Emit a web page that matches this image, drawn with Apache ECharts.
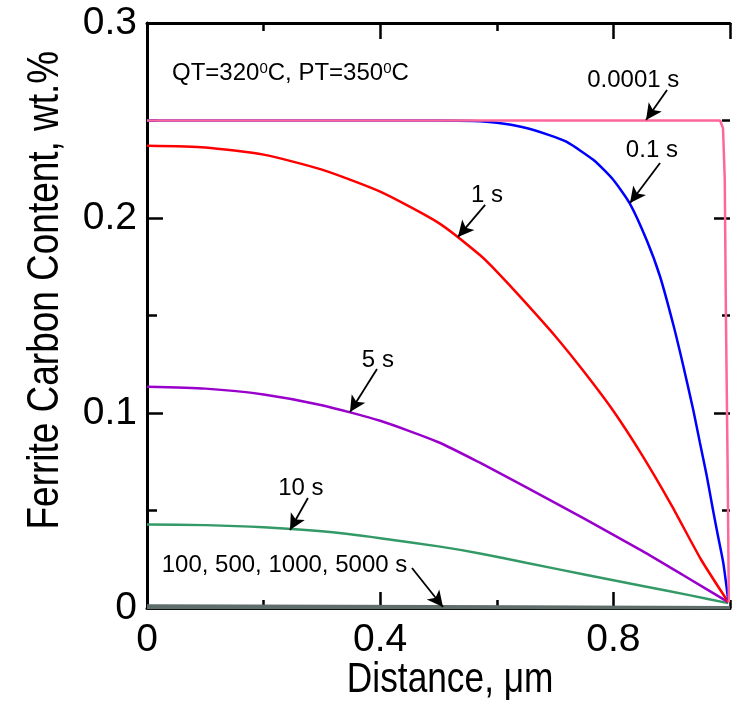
<!DOCTYPE html>
<html>
<head>
<meta charset="utf-8">
<script src="https://cdn.jsdelivr.net/npm/echarts@6/dist/echarts.min.js"></script>
<style>
  html, body { margin: 0; padding: 0; background: #fff; }
  #chart { width: 732px; height: 714px; }
</style>
</head>
<body>
<div id="chart"></div>
<script>
// distance (um) and ferrite carbon (wt.%)
const dist0001 = [0, 0.2, 0.4, 0.6, 0.8, 0.983, 0.988, 0.991, 0.993, 0.996, 0.998];
const carb0001 = [0.25, 0.25, 0.25, 0.25, 0.25, 0.25, 0.246, 0.22, 0.15, 0.07, 0.003];

const dist01 = [0, 0.2, 0.4, 0.5, 0.56, 0.6, 0.645, 0.69, 0.72, 0.766, 0.8, 0.828, 0.857, 0.88, 0.903, 0.92, 0.937, 0.9485, 0.96, 0.971, 0.98, 0.9886, 0.997];
const carb01 = [0.25, 0.25, 0.25, 0.25, 0.2497, 0.2488, 0.2465, 0.2425, 0.239, 0.2297, 0.2195, 0.2075, 0.1887, 0.17, 0.145, 0.124, 0.1015, 0.0846, 0.068, 0.05, 0.036, 0.0229, 0.004];

const dist1 = [0, 0.1, 0.2, 0.3, 0.4, 0.5, 0.571, 0.6, 0.645, 0.7, 0.75, 0.8, 0.85, 0.9, 0.95, 0.997];
const carb1 = [0.237, 0.2362, 0.2325, 0.2248, 0.2135, 0.1975, 0.181, 0.1725, 0.158, 0.1395, 0.121, 0.101, 0.078, 0.0525, 0.025, 0.003];

const dist5 = [0, 0.1, 0.2, 0.3, 0.4, 0.5, 0.571, 0.65, 0.75, 0.85, 0.92, 0.997];
const carb5 = [0.1135, 0.1125, 0.1095, 0.104, 0.096, 0.085, 0.0745, 0.062, 0.0458, 0.0292, 0.0168, 0.003];

const dist10 = [0, 0.1, 0.2, 0.3, 0.4, 0.5, 0.571, 0.65, 0.75, 0.85, 0.93, 0.997];
const carb10 = [0.0428, 0.0425, 0.0414, 0.0393, 0.0358, 0.0316, 0.028, 0.0232, 0.0172, 0.0113, 0.0066, 0.0025];

const distLong = [0, 0.5, 1.0];
const carb100 = [0.0012, 0.0008, 0.0002];
const carb500 = [0.0006, 0.0004, 0.0001];
const carb1000 = [0.0003, 0.0002, 0.0001];
const carb5000 = [0.0001, 0.0001, 0];

const xTicks = [0, 0.4, 0.8];
const yTicks = [0, 0.1, 0.2, 0.3];

// text labels and arrows, in data units
const notes = [
    { text: '0.0001 s', at: [0.834, 0.2708], from: [0.892, 0.2656], to: [0.856, 0.2503] },
    { text: '0.1 s', at: [0.866, 0.2349], from: [0.880, 0.2282], to: [0.8285, 0.2077] },
    { text: '1 s', at: [0.583, 0.2118], from: [0.580, 0.2067], to: [0.5334, 0.1903] },
    { text: '5 s', at: [0.396, 0.1272], from: [0.3945, 0.1226], to: [0.3482, 0.1005] },
    { text: '10 s', at: [0.264, 0.0615], from: [0.276, 0.0564], to: [0.2453, 0.040] },
    { text: '100, 500, 1000, 5000 s', at: [0.2358, 0.022], from: [0.4545, 0.0205], to: [0.5077, 0.0005] }
];

const pairs = (xs, ys) => xs.map((x, i) => [x, ys[i]]);

const chart = echarts.init(document.getElementById('chart'));
const font = '"Liberation Sans", Arial, sans-serif';

const lineSeries = (name, xs, ys, color, extra) => Object.assign({
    name: name,
    type: 'line',
    data: pairs(xs, ys),
    showSymbol: false,
    smooth: 0.2,
    lineStyle: { color: color, width: 2.5 },
    itemStyle: { color: color },
    z: 3
}, extra || {});

const tickAxis = (pos, interval, len, showLine) => ({
    type: 'value',
    position: pos,
    min: 0,
    max: 1,
    interval: interval,
    axisLine: { show: showLine, onZero: false, lineStyle: { color: '#000', width: 3 } },
    axisTick: { show: true, inside: true, length: len, lineStyle: { color: '#000', width: 2.5 } },
    axisLabel: { show: false },
    splitLine: { show: false }
});

const gray = '#5f6e6b';

const options = {
    animation: false,
    backgroundColor: '#fff',
    grid: { left: 147, right: 2, top: 23, bottom: 106 },
    xAxis: [
        {
            type: 'value',
            position: 'bottom',
            min: 0,
            max: 1,
            interval: 0.4,
            axisLine: { show: true, onZero: false, lineStyle: { color: '#000', width: 3 } },
            axisTick: { show: true, inside: true, length: 16, lineStyle: { color: '#000', width: 2.5 } },
            axisLabel: {
                show: true,
                margin: 13,
                fontFamily: font,
                fontSize: 39,
                color: '#000',
                showMaxLabel: false,
                formatter: v => (xTicks.indexOf(v) >= 0 ? String(v) : '')
            },
            splitLine: { show: false }
        },
        tickAxis('bottom', 0.2, 8, false),
        tickAxis('top', 0.4, 16, true),
        tickAxis('top', 0.2, 8, false)
    ],
    yAxis: [
        {
            type: 'value',
            position: 'left',
            min: 0,
            max: 0.3,
            interval: 0.1,
            axisLine: { show: true, onZero: false, lineStyle: { color: '#000', width: 3 } },
            axisTick: { show: true, inside: true, length: 16, lineStyle: { color: '#000', width: 2.5 } },
            minorTick: { show: true, splitNumber: 2, length: 10, lineStyle: { color: '#000', width: 2.5 } },
            axisLabel: {
                show: true,
                margin: 10,
                fontFamily: font,
                fontSize: 39,
                color: '#000',
                formatter: v => (yTicks.indexOf(v) >= 0 ? String(v) : '')
            },
            splitLine: { show: false }
        },
        {
            type: 'value',
            position: 'right',
            min: 0,
            max: 0.3,
            interval: 0.1,
            axisLine: { show: false, onZero: false },
            axisTick: { show: true, inside: true, length: 16, lineStyle: { color: '#000', width: 2.5 } },
            minorTick: { show: true, splitNumber: 2, length: 8, lineStyle: { color: '#000', width: 2.5 } },
            axisLabel: { show: false },
            splitLine: { show: false }
        }
    ],
    series: [
        lineSeries('100 s', distLong, carb100, gray, { smooth: false, lineStyle: { color: gray, width: 3 } }),
        lineSeries('500 s', distLong, carb500, gray, { smooth: false, lineStyle: { color: gray, width: 3 } }),
        lineSeries('1000 s', distLong, carb1000, gray, { smooth: false, lineStyle: { color: gray, width: 3 } }),
        lineSeries('5000 s', distLong, carb5000, gray, {
            smooth: false,
            lineStyle: { color: gray, width: 3 },
            markLine: {
                silent: true,
                symbol: ['none', 'arrow'],
                symbolSize: [12, 16],
                label: { show: false },
                lineStyle: { color: '#000', width: 1.8, type: 'solid' },
                itemStyle: { color: '#000' },
                data: notes.map(n => [{ coord: n.from }, { coord: n.to }])
            }
        }),
        lineSeries('10 s', dist10, carb10, '#339966'),
        lineSeries('5 s', dist5, carb5, '#9900cc'),
        lineSeries('1 s', dist1, carb1, '#ff0000'),
        lineSeries('0.1 s', dist01, carb01, '#0000ff'),
        lineSeries('0.0001 s', dist0001, carb0001, '#ff6699', { smooth: false })
    ]
};

chart.setOption(options);

// place the labels through the chart's own scales
const toPx = v => chart.convertToPixel({ gridIndex: 0 }, v);
const graphics = notes.map(n => {
    const p = toPx(n.at);
    return {
        type: 'text',
        x: p[0],
        y: p[1],
        style: { text: n.text, fontFamily: font, fontSize: 24, fill: '#000', align: 'center', verticalAlign: 'middle' },
        z: 10
    };
});
const qt = toPx([0.0429, 0.2744]);
graphics.push({
    type: 'text',
    x: qt[0],
    y: qt[1],
    style: {
        text: 'QT=320{sup|0}C, PT=350{sup|0}C',
        fontFamily: font,
        fontSize: 24,
        fill: '#000',
        align: 'left',
        verticalAlign: 'middle',
        rich: { sup: { fontFamily: font, fontSize: 15, verticalAlign: 'top', fill: '#000' } }
    },
    z: 10
});

// axis titles, drawn a little condensed like the original figure
const origin = toPx([0, 0]);
const xMid = toPx([0.52, 0]);
graphics.push({
    type: 'text',
    x: xMid[0],
    y: origin[1] + 72,
    scaleX: 0.84,
    style: { text: 'Distance, \u03bcm', fontFamily: font, fontSize: 42, fill: '#000', align: 'center', verticalAlign: 'middle' }
});
const yMid = toPx([0, 0.163]);
graphics.push({
    type: 'text',
    x: origin[0] - 101,
    y: yMid[1],
    rotation: Math.PI / 2,
    scaleX: 0.84,
    style: { text: 'Ferrite Carbon Content, wt.%', fontFamily: font, fontSize: 44, fill: '#000', align: 'center', verticalAlign: 'middle' }
});
chart.setOption({ graphic: graphics });
</script>
</body>
</html>
